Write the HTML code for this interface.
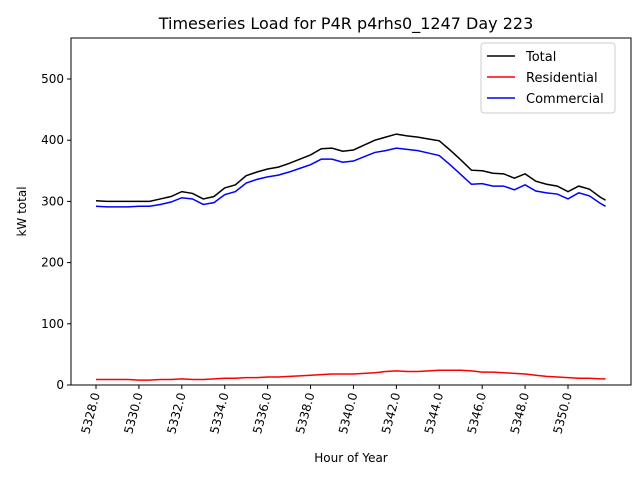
<!DOCTYPE html>
<html><head><meta charset="utf-8"><style>
body{margin:0;background:#fff}
svg text{font-family:"DejaVu Sans","Liberation Sans",sans-serif;fill:#000}
</style></head><body>
<svg id="c" width="640" height="480">
<rect x="0" y="0" width="640" height="480" fill="#fff"/>
<text x="346" y="29" font-size="16" text-anchor="middle">Timeseries Load for P4R p4rhs0_1247  Day 223</text>
<g id="plot"></g>
</svg>
<script>
const hours=[5328,5328.5,5329,5329.5,5330,5330.5,5331,5331.5,5332,5332.5,5333,5333.5,5334,5334.5,5335,5335.5,5336,5336.5,5337,5337.5,5338,5338.5,5339,5339.5,5340,5340.5,5341,5341.5,5342,5342.5,5343,5343.5,5344,5344.5,5345,5345.5,5346,5346.5,5347,5347.5,5348,5348.5,5349,5349.5,5350,5350.5,5351,5351.5,5351.75];
const total=[301,300,300,300,300,300,304,308,316,313,304,308,322,327,342,348,353,356,362,369,376,386,387,382,384,392,400,405,410,407,405,402,399,384,368,351,350,346,345,338,345,333,328,325,316,325,320,307,302];
const residential=[9,9,9,9,8,8,9,9,10,9,9,10,11,11,12,12,13,13,14,15,16,17,18,18,18,19,20,22,23,22,22,23,24,24,24,23,21,21,20,19,18,16,14,13,12,11,11,10,10];
const commercial=[292,291,291,291,292,292,295,299,306,304,295,298,311,316,330,336,340,343,348,354,360,369,369,364,366,373,380,383,387,385,383,379,375,360,344,328,329,325,325,319,327,317,314,312,304,314,309,297,292];
const xTicks=[5328,5330,5332,5334,5336,5338,5340,5342,5344,5346,5348,5350];
const yTicks=[0,100,200,300,400,500];
const NS="http://www.w3.org/2000/svg";
const L=71,R=631,T=38,B=385;
const xs=h=>96+(568-96)*(h-5328)/22;
const ys=v=>B-(B-T)*v/567;
const g=document.getElementById('plot');
function mk(t,a){const e=document.createElementNS(NS,t);for(const k in a)e.setAttribute(k,a[k]);g.appendChild(e);return e;}
const series=[[total,'#000','total-line'],[residential,'#ff0000','residential-line'],[commercial,'#0000ff','commercial-line']];
series.forEach(s=>{
 const p=mk('polyline',{points:hours.map((h,i)=>xs(h)+','+ys(s[0][i])).join(' '),fill:'none',stroke:s[1],'stroke-width':1.5});
 
 
});
const fr=mk('rect',{x:L,y:T,width:R-L,height:B-T,fill:'none',stroke:'#000','stroke-width':1});


xTicks.forEach(v=>{
 const x=xs(v);
 mk('line',{x1:x,y1:B,x2:x,y2:B+4,stroke:'#000'});
 const t=mk('text',{x:0,y:0,'font-size':12,'text-anchor':'end',transform:`translate(${x+4},${B+9}) rotate(-75)`});
 t.textContent=v.toFixed(1);
 
 
});
yTicks.forEach(v=>{
 const y=ys(v);
 mk('line',{x1:L-4,y1:y,x2:L,y2:y,stroke:'#000'});
 const t=mk('text',{x:L-7,y:y+4,'font-size':12,'text-anchor':'end'});
 t.textContent=v;
 
 
});
const xl=mk('text',{x:(L+R)/2,y:462,'font-size':12,'text-anchor':'middle'});xl.textContent='Hour of Year';


const yl=mk('text',{x:0,y:0,'font-size':12,'text-anchor':'middle',transform:`translate(26,${(T+B)/2}) rotate(-90)`});yl.textContent='kW total';


const lg=mk('rect',{x:481,y:43,width:134,height:70,rx:3,fill:'#fff',stroke:'#ccc'});


[['Total','#000'],['Residential','#ff0000'],['Commercial','#0000ff']].forEach((e,i)=>{
 const y=56+i*21;
 mk('line',{x1:487,y1:y,x2:515,y2:y,stroke:e[1],'stroke-width':1.5});
 const t=mk('text',{x:526,y:y+5,'font-size':13});t.textContent=e[0];
 
 
});
</script>
</body></html>
